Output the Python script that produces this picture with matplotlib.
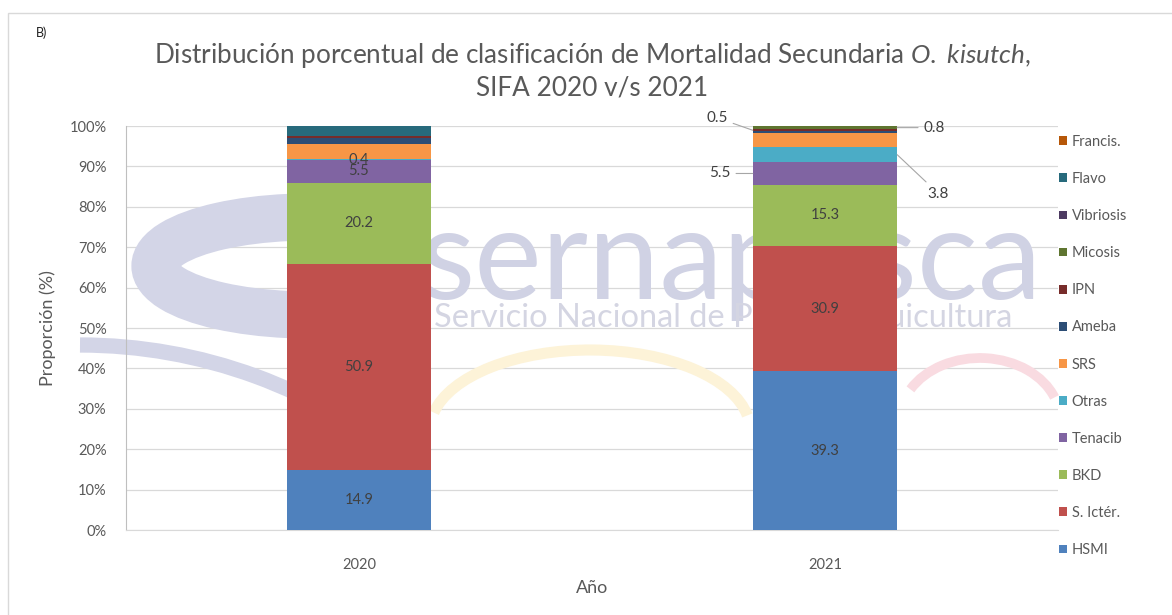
import numpy as np
import matplotlib
matplotlib.use("Agg")
import matplotlib.pyplot as plt
from matplotlib.patches import Arc, Rectangle

plt.rcParams['font.family'] = ['Lato', 'DejaVu Sans']
plt.rcParams['mathtext.fontset'] = 'custom'
plt.rcParams['mathtext.it'] = 'Lato:italic'
plt.rcParams['mathtext.rm'] = 'Lato'

# --- data (percent of secondary mortality) ---
years = ['2020', '2021']
series_names = ['HSMI', 'S. Ictér.', 'BKD', 'Tenacib', 'Otras', 'SRS',
                'Ameba', 'IPN', 'Micosis', 'Vibriosis', 'Flavo', 'Francis.']
hsmi = [14.9, 39.3]
s_icter = [50.9, 30.9]
bkd = [20.2, 15.3]
tenacib = [5.5, 5.5]
otras = [0.4, 3.8]
srs = [3.6, 3.5]
ameba = [1.5, 0.4]
ipn = [0.6, 0.5]
micosis = [0.0, 0.8]
vibriosis = [0.0, 0.0]
flavo = [2.4, 0.0]
francis = [0.0, 0.0]
series_vals = [hsmi, s_icter, bkd, tenacib, otras, srs, ameba, ipn,
               micosis, vibriosis, flavo, francis]
colors = ['#4F81BD', '#C0504D', '#9BBB59', '#8064A2', '#4BACC6', '#F79646',
          '#2C4D75', '#772C2A', '#5F7530', '#4D3B62', '#276A7C', '#B65708']

# which segments get a value label: 'in' centred, or (side, dx, dy) leader offsets in points
label_2020 = {'HSMI': 'in', 'S. Ictér.': 'in', 'BKD': 'in', 'Tenacib': 'in', 'Otras': 'in'}
label_2021 = {'HSMI': 'in', 'S. Ictér.': 'in', 'BKD': 'in',
              'Tenacib': ('left', -16, 0), 'Otras': ('right', 22, -28),
              'IPN': ('left', -18, 9), 'Micosis': ('right', 19, 0)}
label_modes = [label_2020, label_2021]

grey = '#595959'
txt = '#404040'
W, H = 1172, 615

fig = plt.figure(figsize=(11.72, 6.15), dpi=100)
ax = fig.add_axes([0.1075, 0.1382, 0.7952, 0.6569])
ax.patch.set_alpha(0)

# frame around the figure
fig.add_artist(Rectangle((8 / W, -0.01), 1.2, 1.01 - 13 / H,
                         transform=fig.transFigure, fill=False,
                         edgecolor='#d9d9d9', lw=1.0))


# faint watermark (logo), placed in figure pixels
def wm_arc(cx, cy, w, h, t1, t2, lw, col):
    ax.add_patch(Arc((cx / W, 1 - cy / H), w / W, h / H, theta1=t1, theta2=t2,
                     lw=lw, color=col, transform=fig.transFigure, zorder=1,
                     clip_on=False))


lav = '#d3d5e7'
wm_arc(310, 266, 310, 98, 60, 300, 34, lav)
wm_arc(80, 855, 1020, 1020, 66, 90, 11, lav)
wm_arc(590, 430, 320, 160, 10, 168, 8, '#fdf3d8')
wm_arc(980, 420, 160, 124, 30, 140, 7, '#f9dbe1')
ax.text(0.315, 0.66, 'sernapesca', transform=ax.transAxes, fontsize=92,
        color='#d0d2e4', ha='left', va='center', zorder=1)
ax.text(0.330, 0.525, 'Servicio Nacional de Pesca y Acuicultura', transform=ax.transAxes,
        fontsize=23.5, color='#d4d5e2', ha='left', va='center', zorder=1)

x = np.arange(len(years))
w = 0.31
bottom = np.zeros(len(years))
for name, vals, col in zip(series_names, series_vals, colors):
    vals = np.array(vals, dtype=float)
    ax.bar(x, vals, w, bottom=bottom, color=col, label=name, zorder=3)
    for j in range(len(years)):
        mode = label_modes[j].get(name)
        if mode is None:
            continue
        yc = bottom[j] + vals[j] / 2
        s = f"{vals[j]:.1f}"
        if mode == 'in':
            ax.text(x[j], yc, s, ha='center', va='center', fontsize=10.5,
                    color=txt, zorder=5)
        else:
            side, dx, dy = mode
            xe = x[j] - w / 2 if side == 'left' else x[j] + w / 2
            ha = 'right' if side == 'left' else 'left'
            ax.annotate(s, xy=(xe, yc), xytext=(dx, dy), textcoords='offset points',
                        ha=ha, va='center', fontsize=11, color=txt, zorder=5,
                        arrowprops=dict(arrowstyle='-', color='#a6a6a6', lw=0.8,
                                        shrinkA=2, shrinkB=0))
    bottom += vals

ax.set_xlim(-0.5, 1.5)
ax.set_ylim(0, 100)
ax.set_xticks(x)
ax.set_xticklabels(years)
ax.set_yticks(np.arange(0, 101, 10))
ax.set_yticklabels([f"{v}%" for v in range(0, 101, 10)])
ax.tick_params(axis='y', length=0, pad=14, labelsize=10.5, labelcolor=grey)
ax.tick_params(axis='x', length=0, pad=20, labelsize=10.5, labelcolor=grey)
ax.grid(axis='y', color='#d9d9d9', lw=0.9, zorder=0)
ax.set_axisbelow(True)
for s in ['top', 'right']:
    ax.spines[s].set_visible(False)
ax.spines['left'].set_color('#bfbfbf')
ax.spines['bottom'].set_color('#d9d9d9')

ax.set_ylabel('Proporción (%)', fontsize=13, color=grey, labelpad=10)
ax.set_xlabel('Año', fontsize=13, color=grey, labelpad=6)

fig.text(592 / W, 1 - 55 / H,
         r'Distribución porcentual de clasificación de Mortalidad Secundaria $\it{O.}$ $\it{kisutch}$,',
         ha='center', va='center', fontsize=18.8, color=grey)
fig.text(592 / W, 1 - 88 / H, 'SIFA 2020 v/s 2021', ha='center', va='center',
         fontsize=18.8, color=grey)
fig.text(36 / W, 1 - 33 / H, 'B)', ha='left', va='center', fontsize=9, color='#202020')

h, l = ax.get_legend_handles_labels()
leg = ax.legend(h[::-1], l[::-1], loc='upper left', bbox_to_anchor=(0.995, 0.9926),
                frameon=False, fontsize=10.5, labelspacing=1.585, handlelength=0.55,
                handleheight=0.55, handletextpad=0.3, borderaxespad=0)
for t in leg.get_texts():
    t.set_color(grey)

fig.savefig('out.png', dpi=100)
